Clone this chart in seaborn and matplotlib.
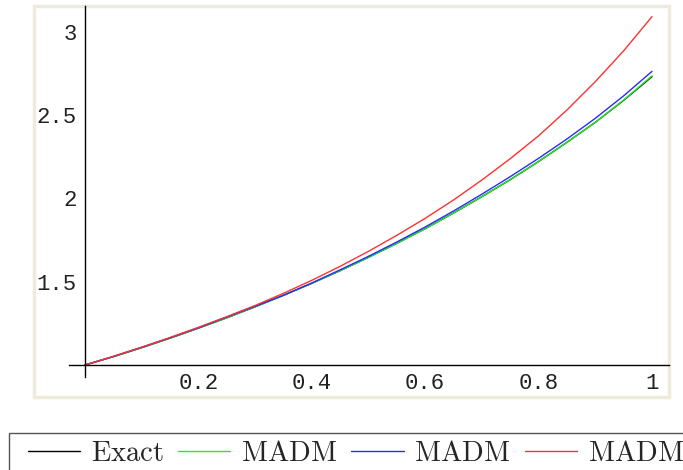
import numpy as np
import pandas as pd
import matplotlib
matplotlib.use("Agg")
import matplotlib.pyplot as plt
from matplotlib.patches import Rectangle
from matplotlib.ticker import FixedLocator
import seaborn as sns

# values
x_vals = [0.0, 0.05, 0.1, 0.15, 0.2, 0.25, 0.3, 0.35, 0.4, 0.45, 0.5,
          0.55, 0.6, 0.65, 0.7, 0.75, 0.8, 0.85, 0.9, 0.95, 1.0]
exact = [1.000, 1.050, 1.104, 1.161, 1.221, 1.283, 1.349, 1.418, 1.490, 1.566, 1.646,
         1.730, 1.818, 1.912, 2.010, 2.112, 2.221, 2.336, 2.456, 2.588, 2.730]
madm_green = [1.000, 1.050, 1.104, 1.161, 1.221, 1.283, 1.349, 1.418, 1.490, 1.566, 1.646,
              1.730, 1.818, 1.912, 2.010, 2.112, 2.221, 2.336, 2.456, 2.590, 2.735]
madm_blue = [1.000, 1.051, 1.106, 1.163, 1.223, 1.287, 1.352, 1.418, 1.492, 1.571, 1.652,
             1.738, 1.828, 1.924, 2.025, 2.130, 2.240, 2.356, 2.480, 2.615, 2.762]
madm_red = [1.000, 1.052, 1.107, 1.165, 1.226, 1.290, 1.357, 1.430, 1.508, 1.592, 1.682,
            1.778, 1.880, 1.990, 2.110, 2.238, 2.375, 2.530, 2.700, 2.885, 3.090]

series_labels = ["Exact", "MADM", "MADM", "MADM"]
series_colors = ["black", "#22ee22", "#2a2aff", "#ff3030"]
xtick_vals = [0.2, 0.4, 0.6, 0.8, 1.0]
xtick_labels = ["0.2", "0.4", "0.6", "0.8", "1"]
ytick_vals = [1.5, 2.0, 2.5, 3.0]
ytick_labels = ["1.5", "2", "2.5", "3"]

sns.set_style("white")
plt.rcParams["mathtext.fontset"] = "cm"

fig = plt.figure(figsize=(6.83, 4.70), dpi=100)
W, H = 683, 470
ax = fig.add_axes([34 / W, 1 - 397 / H, (669 - 34) / W, (397 - 6) / H])

for ys, col in zip([exact, madm_green, madm_blue, madm_red], series_colors):
    df = pd.DataFrame({"x": x_vals, "y": ys})
    sns.lineplot(data=df, x="x", y="y", color=col, lw=1.0, estimator=None,
                 legend=False, ax=ax)

ax.set_xlim(-0.0899, 1.030)
ax.set_ylim(0.808, 3.154)
ax.set_xlabel("")
ax.set_ylabel("")

# Mathematica style axes crossing at (0, 1)
for s in ["top", "right"]:
    ax.spines[s].set_visible(False)
ax.spines["left"].set_position(("data", 0))
ax.spines["bottom"].set_position(("data", 1))
ax.spines["left"].set_bounds(0.93, 3.154)
ax.spines["bottom"].set_bounds(-0.028, 1.03)
for s in ["left", "bottom"]:
    ax.spines[s].set_color("black")
    ax.spines[s].set_linewidth(1.0)

ax.set_xticks(xtick_vals)
ax.set_xticklabels(xtick_labels)
ax.set_yticks(ytick_vals)
ax.set_yticklabels(ytick_labels)
ax.xaxis.set_minor_locator(FixedLocator([v for v in np.arange(0.05, 1.001, 0.05)]))
ax.yaxis.set_minor_locator(FixedLocator([v for v in np.arange(1.1, 3.11, 0.1)]))
ax.tick_params(which="major", direction="in", length=4, width=0.8, color="black",
               labelsize=16, labelcolor="#222222")
ax.tick_params(which="minor", direction="in", length=2.2, width=0.6, color="#444444")
ax.tick_params(axis="x", which="major", pad=6)
ax.tick_params(axis="y", which="major", pad=6)
for lab in ax.get_xticklabels() + ax.get_yticklabels():
    lab.set_family("Liberation Mono")

# beige frame around the plot panel
ax.add_patch(Rectangle((0, 0), 1, 1, transform=ax.transAxes, fill=False,
                       edgecolor="#eeebdc", lw=2.5, clip_on=False))

# legend box runs off the right and bottom edges like in the original
fig.patches.append(Rectangle((9 / W, -0.1), 1.0, (470 - 433) / H + 0.1,
                             transform=fig.transFigure, fill=False,
                             edgecolor="#555555", lw=1.0))

handles = ax.get_lines()[:4]
labels = [r"$\mathrm{%s}$" % t for t in series_labels]
leg = fig.legend(handles, labels, loc="upper left", bbox_to_anchor=(18 / W, 1 - 429 / H),
                 ncol=4, fontsize=20.5, frameon=False, handlelength=1.84,
                 handletextpad=0.38, columnspacing=0.49, borderpad=0.35,
                 borderaxespad=0)

fig.savefig("out.png", dpi=100)
